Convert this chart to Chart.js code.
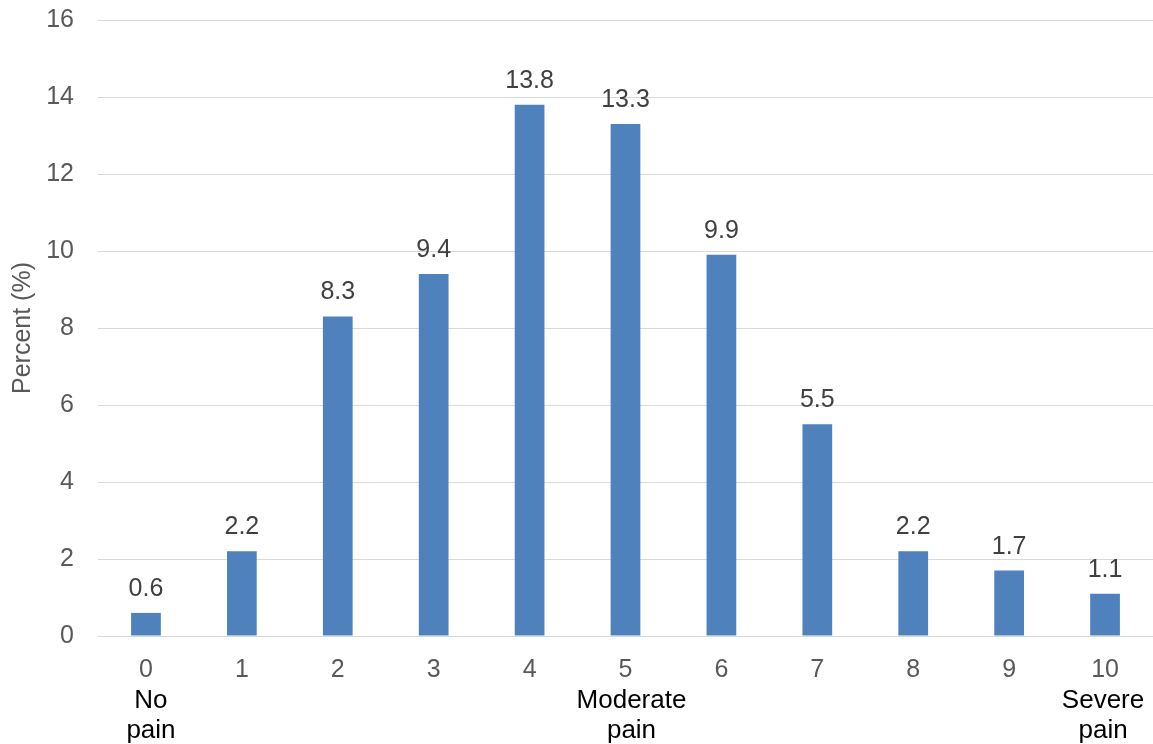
<!DOCTYPE html>
<html>
<head>
<meta charset="utf-8">
<script src="https://cdn.jsdelivr.net/npm/chart.js@4"></script>
<style>
  html, body { margin: 0; padding: 0; background: #fff; }
  #wrap { width: 1153px; height: 744px; }
</style>
</head>
<body>
<div id="wrap"><canvas id="canvas"></canvas></div>
<script>
var painScores = ['0', '1', '2', '3', '4', '5', '6', '7', '8', '9', '10'];
var percents = [0.6, 2.2, 8.3, 9.4, 13.8, 13.3, 9.9, 5.5, 2.2, 1.7, 1.1];
var anchorLabels = { 0: ['No', 'pain'], 5: ['Moderate', 'pain'], 10: ['Severe', 'pain'] };
var yTicks = [0, 2, 4, 6, 8, 10, 12, 14, 16];

var FONT = '"Liberation Sans", Arial, sans-serif';

// value labels above bars + black anchor labels below the axis
var extras = {
  id: 'extras',
  afterDatasetsDraw: function(chart) {
    var ctx = chart.ctx;
    var meta = chart.getDatasetMeta(0);
    ctx.save();
    ctx.font = '25px ' + FONT;
    ctx.fillStyle = '#404040';
    ctx.textAlign = 'center';
    ctx.textBaseline = 'alphabetic';
    meta.data.forEach(function(bar, i) {
      ctx.fillText(percents[i].toFixed(1), bar.x, bar.y - 17);
    });
    var xs = chart.scales.x;
    var nudge = { 0: 5, 5: 6, 10: -2 };
    ctx.font = '26px ' + FONT;
    ctx.fillStyle = '#000000';
    Object.keys(anchorLabels).forEach(function(k) {
      var x = xs.getPixelForValue(Number(k)) + nudge[k];
      anchorLabels[k].forEach(function(line, j) {
        ctx.fillText(line, x, 708 + j * 30);
      });
    });
    ctx.restore();
  }
};

var ctx = document.getElementById('canvas').getContext('2d');
var myChart = new Chart(ctx, {
  type: 'bar',
  data: {
    labels: painScores,
    datasets: [{
      label: 'Percent',
      data: percents,
      backgroundColor: '#4F81BD',
      borderWidth: 0,
      categoryPercentage: 1,
      barPercentage: 0.31
    }]
  },
  options: {
    responsive: true,
    maintainAspectRatio: false,
    animation: false,
    layout: { padding: 0 },
    plugins: {
      legend: { display: false },
      tooltip: { enabled: false }
    },
    scales: {
      x: {
        afterFit: function(s) { s.height = 108; },
        grid: { display: false, drawTicks: false },
        border: { display: true, color: '#d9d9d9' },
        ticks: { color: '#595959', font: { family: FONT, size: 25 }, padding: 19 }
      },
      y: {
        min: 0,
        max: 16,
        afterBuildTicks: function(axis) {
          axis.ticks = yTicks.map(function(v) { return { value: v }; });
        },
        afterFit: function(s) { s.width = 98; },
        grid: { color: '#d9d9d9', drawTicks: true, tickLength: 19, tickColor: 'rgba(0,0,0,0)' },
        border: { display: false },
        ticks: { color: '#595959', font: { family: FONT, size: 25 }, padding: 5 },
        title: {
          display: true,
          text: 'Percent (%)',
          color: '#595959',
          font: { family: FONT, size: 25 },
          padding: { top: 8, bottom: 0 }
        }
      }
    }
  },
  plugins: [extras]
});
</script>
</body>
</html>
